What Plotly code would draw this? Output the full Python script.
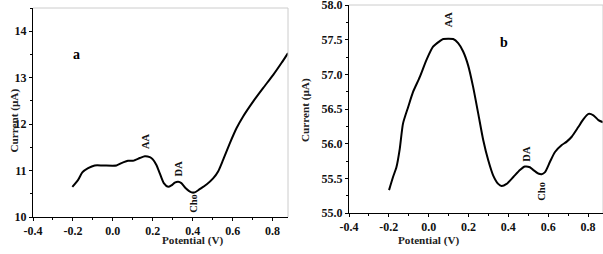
import plotly.graph_objects as go

# Panel a data
pot_a = [-0.203, -0.174, -0.153, -0.124, -0.091, -0.049, 0.018, 0.043, 0.076, 0.101,
         0.135, 0.16, 0.185, 0.2, 0.218, 0.235, 0.255, 0.277, 0.293, 0.31, 0.327,
         0.343, 0.365, 0.394, 0.41, 0.435, 0.469, 0.502, 0.527, 0.552, 0.586, 0.619,
         0.653, 0.703, 0.753, 0.803, 0.845, 0.877]
cur_a = [10.65, 10.80, 10.96, 11.05, 11.11, 11.11, 11.11, 11.16, 11.21, 11.21,
         11.27, 11.31, 11.29, 11.24, 11.12, 10.94, 10.73, 10.65, 10.68, 10.74, 10.76,
         10.73, 10.62, 10.53, 10.53, 10.60, 10.70, 10.83, 10.98, 11.23, 11.59, 11.91,
         12.17, 12.49, 12.78, 13.06, 13.32, 13.53]

# Panel b data
pot_b = [-0.199, -0.179, -0.162, -0.145, -0.129, -0.103, -0.078, -0.045, -0.011, 0.022,
         0.056, 0.073, 0.123, 0.148, 0.173, 0.198, 0.223, 0.249, 0.274, 0.299, 0.324,
         0.349, 0.366, 0.391, 0.425, 0.458, 0.483, 0.508, 0.525, 0.55, 0.567, 0.584,
         0.609, 0.634, 0.668, 0.693, 0.718, 0.751, 0.776, 0.802, 0.827, 0.852, 0.875]
cur_b = [55.33, 55.52, 55.66, 55.93, 56.29, 56.53, 56.75, 56.96, 57.21, 57.40,
         57.48, 57.51, 57.51, 57.45, 57.33, 57.13, 56.82, 56.43, 56.05, 55.76, 55.54,
         55.42, 55.39, 55.42, 55.52, 55.62, 55.67, 55.66, 55.62, 55.57, 55.56, 55.59,
         55.74, 55.88, 55.98, 56.03, 56.10, 56.24, 56.35, 56.43, 56.41, 56.34, 56.31]

x_ticks = [-0.4, -0.2, 0.0, 0.2, 0.4, 0.6, 0.8]
x_ticktext = ["-0.4", "-0.2", "0.0", "0.2", "0.4", "0.6", "0.8"]
ya_ticks = [10, 11, 12, 13, 14]
ya_ticktext = ["10", "11", "12", "13", "14"]
yb_ticks = [55.0, 55.5, 56.0, 56.5, 57.0, 57.5, 58.0]
yb_ticktext = ["55.0", "55.5", "56.0", "56.5", "57.0", "57.5", "58.0"]

FONT = "Liberation Serif"
W, H = 603, 254


def bold(lst):
    return ["<b>%s</b>" % s for s in lst]


fig = go.Figure()
fig.add_trace(go.Scatter(x=pot_a, y=cur_a, mode="lines", xaxis="x", yaxis="y",
                         line=dict(color="black", width=2, shape="spline", smoothing=0.6),
                         showlegend=False))
fig.add_trace(go.Scatter(x=pot_b, y=cur_b, mode="lines", xaxis="x2", yaxis="y2",
                         line=dict(color="black", width=2, shape="spline", smoothing=0.6),
                         showlegend=False))

tickfont = dict(family=FONT, size=12, color="#111111")
common = dict(showline=True, linecolor="black", linewidth=1, ticks="outside", ticklen=3,
              tickwidth=1, tickcolor="black", showgrid=False, zeroline=False,
              tickfont=tickfont, automargin=False, ticklabeloverflow="allow")

fig.update_layout(
    width=W, height=H, margin=dict(l=0, r=0, t=0, b=0, autoexpand=False),
    plot_bgcolor="white", paper_bgcolor="white",
    xaxis=dict(domain=[33/W, 288/W], range=[-0.4, 0.877], anchor="y",
               tickvals=x_ticks, ticktext=bold(x_ticktext),
               minor=dict(ticks="outside", ticklen=2, dtick=0.1, tick0=0, tickcolor="black"),
               **common),
    yaxis=dict(domain=[1 - 217/H, 1 - 8/H], range=[10, 14.5], anchor="x",
               tickvals=ya_ticks, ticktext=bold(ya_ticktext),
               minor=dict(ticks="outside", ticklen=2, dtick=0.5, tick0=0, tickcolor="black"),
               **common),
    xaxis2=dict(domain=[349/W, 1.0], range=[-0.4, 0.875], anchor="y2",
                tickvals=x_ticks, ticktext=bold(x_ticktext),
                minor=dict(ticks="outside", ticklen=2, dtick=0.1, tick0=0, tickcolor="black"),
                **common),
    yaxis2=dict(domain=[1 - 213/H, 1 - 5/H], range=[55, 58.001], anchor="x2",
                tickvals=yb_ticks, ticktext=bold(yb_ticktext),
                minor=dict(ticks="outside", ticklen=2, dtick=0.25, tick0=0, tickcolor="black"),
                **common),
)

# light gray top/right frame
for xr, yr in [("x domain", "y domain"), ("x2 domain", "y2 domain")]:
    fig.add_shape(type="line", xref=xr, yref=yr, x0=0, x1=1, y0=1, y1=1,
                  line=dict(color="#cccccc", width=1))
    fig.add_shape(type="line", xref=xr, yref=yr, x0=1, x1=1, y0=0, y1=1,
                  line=dict(color="#cccccc", width=1))

lab = dict(family=FONT, size=11.2, color="#222222")
# axis titles
fig.add_annotation(text="<b>Potential (V)</b>", x=160/W, y=1 - 249/H, xref="paper", yref="paper",
                   showarrow=False, font=lab)
fig.add_annotation(text="<b>Potential (V)</b>", x=461/W, y=1 - 249/H, xref="paper", yref="paper",
                   showarrow=False, font=lab)
fig.add_annotation(text="<b>Current (\u03bcA)</b>", x=5/W, y=1 - 121/H, xref="paper", yref="paper",
                   showarrow=False, font=lab, textangle=-90)
fig.add_annotation(text="<b>Current (\u03bcA)</b>", x=305/W, y=1 - 110/H, xref="paper", yref="paper",
                   showarrow=False, font=lab, textangle=-90)

# panel letters
fig.add_annotation(text="<b>a</b>", x=-0.4 + (76 - 33) / 199.5, y=14 - (55 - 31.7) / 46.3,
                   xref="x", yref="y", showarrow=False,
                   font=dict(family=FONT, size=14, color="black"))
fig.add_annotation(text="<b>b</b>", x=-0.4 + (504 - 349) / 198.9, y=55 + (213 - 43) / 69.2,
                   xref="x2", yref="y2", showarrow=False,
                   font=dict(family=FONT, size=14, color="black"))

# peak labels (rotated)
pk = dict(family=FONT, size=10.5, color="#111111")
fig.add_annotation(text="<b>AA</b>", x=0.16, y=11.63, xref="x", yref="y", showarrow=False,
                   font=pk, textangle=-90)
fig.add_annotation(text="<b>DA</b>", x=0.327, y=11.05, xref="x", yref="y", showarrow=False,
                   font=pk, textangle=-90)
fig.add_annotation(text="<b>Cho</b>", x=0.4, y=10.3, xref="x", yref="y", showarrow=False,
                   font=pk, textangle=-90)
fig.add_annotation(text="<b>AA</b>", x=0.1, y=57.79, xref="x2", yref="y2", showarrow=False,
                   font=pk, textangle=-90)
fig.add_annotation(text="<b>DA</b>", x=0.49, y=55.86, xref="x2", yref="y2", showarrow=False,
                   font=pk, textangle=-90)
fig.add_annotation(text="<b>Cho</b>", x=0.565, y=55.31, xref="x2", yref="y2", showarrow=False,
                   font=pk, textangle=-90)

fig.write_html("out.html", config={"displayModeBar": False})

# remove the browser's default body margin so the figure sits at the page origin
with open("out.html", "r", encoding="utf-8") as f:
    html = f.read()
html = html.replace("<head>", "<head><style>html,body{margin:0;padding:0;overflow:hidden;}</style>", 1)
with open("out.html", "w", encoding="utf-8") as f:
    f.write(html)
